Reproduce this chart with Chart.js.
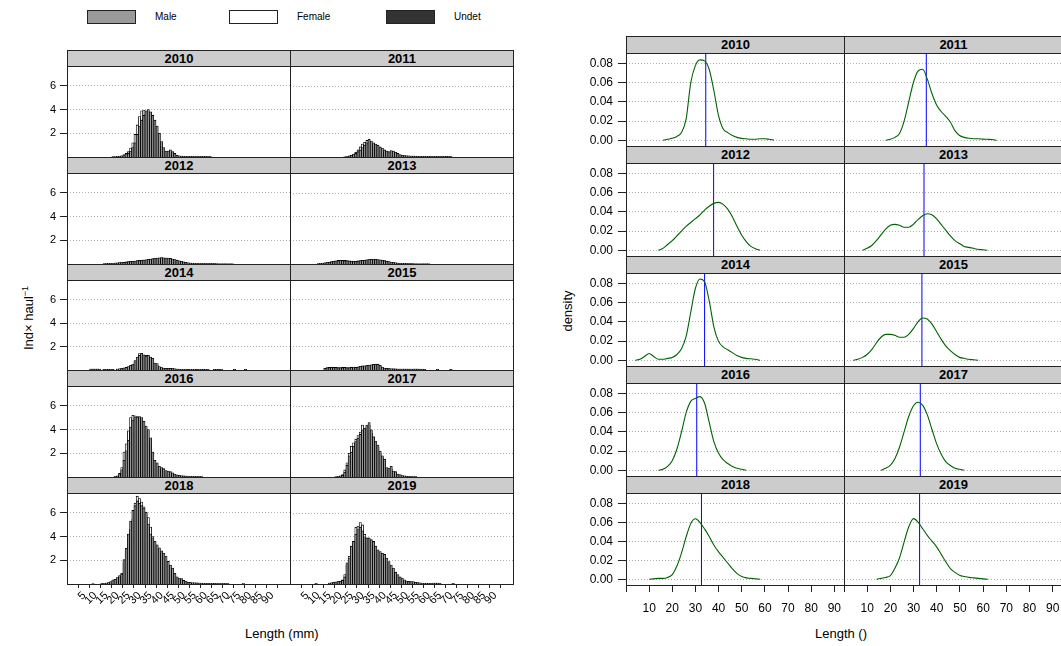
<!DOCTYPE html>
<html>
<head>
<meta charset="utf-8">
<script src="https://cdn.jsdelivr.net/npm/chart.js@4.4.0/dist/chart.umd.min.js"></script>
<style>
  body { margin: 0; width: 1061px; height: 646px; position: relative; overflow: hidden; background: #fff;
         font-family: "Liberation Sans", Arial, sans-serif; color: #000; }
  canvas { position: absolute; }
  .strip { position: absolute; box-sizing: border-box; background: #cccccc; border: 1px solid #222;
           text-align: center; font-weight: bold; font-size: 13px; z-index: 5; }
  .box { position: absolute; box-sizing: border-box; border: 1px solid #222; z-index: 5; pointer-events: none; }
  .key { position: absolute; box-sizing: border-box; border: 1px solid #222; width: 49px; height: 14px; top: 10px; }
  .txt { position: absolute; font-size: 10px; white-space: nowrap; }
  .title { position: absolute; font-size: 13px; white-space: nowrap; }
</style>
</head>
<body>
<div class="key" style="left:87px;background:#9a9a9a"></div><div class="txt" style="left:155px;top:11px">Male</div>
<div class="key" style="left:229px;background:#ffffff"></div><div class="txt" style="left:297px;top:11px">Female</div>
<div class="key" style="left:386px;background:#333333"></div><div class="txt" style="left:454px;top:11px">Undet</div>
<div class="title" style="left:245px;top:626px">Length (mm)</div>
<div class="title" style="left:815px;top:626px">Length ()</div>
<div class="title" style="left:28px;top:318px;transform:translate(-50%,-50%) rotate(-90deg)">Ind&times; haul<sup style="font-size:9px">&minus;1</sup></div>
<div class="title" style="left:567px;top:311px;transform:translate(-50%,-50%) rotate(-90deg)">density</div>
<script>
// panel years
const years = ['2010', '2011', '2012', '2013', '2014', '2015', '2016', '2017', '2018', '2019'];

// histogram length classes (mm)
const lengthBins = [8, 9, 10, 11, 12, 13, 14, 15, 16, 17, 18, 19, 20, 21, 22, 23, 24, 25, 26, 27,
  28, 29, 30, 31, 32, 33, 34, 35, 36, 37, 38, 39, 40, 41, 42, 43, 44, 45, 46, 47,
  48, 49, 50, 51, 52, 53, 54, 55, 56, 57, 58, 59, 60, 61, 62, 63, 64, 65, 66, 67,
  68, 69, 70, 71, 72, 73, 74, 75, 76, 77, 78];

const male2010 = [0,0,0,0,0,0,0,0,0,0, .03,.02,.05,.06,.1,.12,.2,.3,.5,.8, 1.2,1.9,2.6,3.1,3.5,3.9,4.0,3.8,3.5,3.1,
  2.6,2.0,1.3,.8,.5,.5,.6,.45,.3,.15, .1,.08,.06,.06,.05,.05,.05,.04,.04,.05, .04,.05,.04,.04,.03,0,0,0,0,0, 0,0,0,0,0,0,0,0,0,0, 0];
const female2010 = [0,0,0,0,0,0,0,0,0,0, .02,.03,.05,.08,.1,.2,.3,.45,.75,1.2, 1.9,2.7,3.4,3.9,3.95,3.6,3.3,2.9,2.4,1.9,
  1.4,.9,.6,.4,.3,.3,.25,.2,.15,.1, .08,.06,.05,.05,.05,.05,.04,.04,.05,.04, .05,.04,.05,.03,.03,0,0,0,0,0, 0,0,0,0,0,0,0,0,0,0, 0];
const male2011 = [0,0,0,0,0,0,0,0,0,0, 0,0,0,0,.02,.03,.08,.12,.2,.3, .45,.6,.8,1.0,1.2,1.5,1.35,1.2,1.1,1.0,
  .85,.75,.6,.5,.45,.55,.5,.4,.3,.2, .15,.12,.1,.1,.08,.08,.07,.06,.06,.05, .05,.05,.04,.05,.05,.04,.05,.04,.05,.04, .05,.04,.04,0,0,0,0,0,0,0, 0];
const female2011 = [0,0,0,0,0,0,0,0,0,0, 0,0,0,0,.02,.05,.1,.15,.25,.4, .6,.85,1.1,1.25,1.4,1.3,1.1,.95,.8,.7,
  .6,.5,.4,.3,.3,.35,.3,.25,.2,.15, .12,.1,.1,.08,.08,.07,.06,.06,.05,.05, .05,.04,.05,.05,.04,.04,.05,.04,.04,.05, .04,.04,.03,0,0,0,0,0,0,0, 0];
const male2012 = [0,0,0,0,0,0,.02,.03,.04,.05, .05,.07,.08,.1,.12,.13,.15,.18,.2,.23, .25,.27,.3,.32,.34,.36,.4,.42,.45,.48,
  .5,.52,.55,.53,.5,.5,.47,.42,.37,.32, .27,.22,.18,.14,.1,.08,.07,.06,.05,.05, .04,.04,.04,.03,.03,.03,.03,.02,.02,.02, .02,.02,.02,.02,.02,0,0,0,0,0, 0];
const female2012 = [0,0,0,0,0,0,.03,.04,.05,.05, .06,.08,.1,.12,.12,.15,.18,.2,.22,.22, .25,.28,.3,.3,.33,.35,.38,.4,.42,.45,
  .48,.5,.52,.5,.5,.48,.45,.4,.35,.3, .25,.2,.16,.12,.1,.08,.06,.05,.05,.04, .04,.04,.03,.03,.03,.03,.03,.03,.02,.02, .02,.02,.02,.02,.02,0,0,0,0,0, 0];
const male2013 = [0,0,.02,.04,.06,.09,.12,.15,.18,.22, .25,.28,.3,.3,.28,.27,.25,.23,.22,.22, .24,.27,.3,.32,.35,.38,.4,.42,.4,.38,
  .35,.32,.28,.24,.2,.16,.13,.1,.08,.07, .05,.05,.04,.03,.03,.03,.02,.02,.02,.02, .02,.02,.02,0,0,0,0,0,0,0, 0,0,0,0,0,0,0,0,0,0, 0];
const female2013 = [0,0,.03,.05,.08,.1,.13,.16,.2,.24, .27,.3,.3,.32,.3,.28,.26,.24,.22,.24, .26,.28,.3,.33,.36,.38,.4,.4,.38,.36,
  .33,.3,.26,.22,.18,.15,.12,.1,.08,.06, .05,.04,.04,.03,.03,.02,.02,.02,.02,.02, .02,.02,.02,0,0,0,0,0,0,0, 0,0,0,0,0,0,0,0,0,0, 0];
const male2014 = [.07,.08,.08,.07,.07,0,.05,.06,.05,.06, .05,0,.07,.1,.15,.18,.22,.3,.4,.45, .8,1.1,1.25,1.42,1.3,1.2,1.25,1.1,1.0,.6,
  .55,.3,.2,.16,.15,.15,.13,.12,.1,.08, .07,.06,.06,.06,.05,.06,.06,.06,.05,.06, .06,.05,.06,.06,0,0,.05,.06,.05,.06, 0,0,0,0,0,.05,0,0,0,0, .05];
const female2014 = [.08,.08,.07,.08,.06,0,.06,.05,.06,.05, .06,0,.08,.1,.12,.15,.2,.25,.35,.5, .75,1.0,1.4,1.3,1.2,1.25,1.2,1.0,.8,.55,
  .4,.25,.18,.15,.15,.14,.15,.12,.1,.08, .06,.06,.06,.06,.06,.06,.06,.06,.06,.05, .06,.06,.06,.05,0,0,.06,.06,.06,.05, 0,0,0,0,0,.05,0,0,0,0, .05];
const male2015 = [0,0,0,0,0,.12,.18,.2,.24,.22, .22,.2,.18,.2,.22,.2,.18,.22,.25,.22, .25,.32,.33,.36,.4,.42,.45,.48,.5,.46,
  .4,.25,.17,.14,.13,.1,.09,.09,.08,.07, .07,.08,.07,.08,.07,.07,.08,.07,.06,.07, .05,0,0,0,0,0,.05,0,0,0, 0,0,.05,0,0,0,0,0,0,0, 0];
const female2015 = [0,0,0,0,0,.15,.2,.22,.23,.2, .2,.18,.2,.22,.2,.18,.2,.25,.22,.2, .28,.3,.35,.33,.38,.4,.42,.45,.48,.5,
  .35,.2,.15,.15,.12,.1,.1,.08,.08,.08, .08,.07,.08,.07,.06,.08,.07,.08,.07,.06, .06,0,0,0,0,0,.05,0,0,0, 0,0,.05,0,0,0,0,0,0,0, 0];
const male2016 = [0,0,0,0,0,0,0,0,0,0, 0,.03,.05,.2,.6,1.4,2.2,3.1,4.2,4.8, 5.0,5.05,5.1,5.0,4.7,4.3,4.0,3.3,2.1,1.4,
  1.2,.9,.8,.7,.55,.5,.45,.35,.25,.18, .14,.1,.09,.08,.07,.06,.05,.05,.04,.04, .04,0,0,0,0,0,0,0,0,0, 0,0,0,0,0,0,0,0,0,0, 0];
const female2016 = [0,0,0,0,0,0,0,0,0,0, 0,.05,.1,.3,.8,2.1,2.8,3.9,5.0,5.2, 5.15,5.1,5.0,4.8,4.4,4.0,3.2,2.6,1.9,1.1,
  .8,.65,.55,.45,.4,.35,.3,.25,.2,.15, .12,.1,.08,.07,.06,.06,.05,.05,.05,.04, .04,0,0,0,0,0,0,0,0,0, 0,0,0,0,0,0,0,0,0,0, 0];
const male2017 = [0,0,0,0,0,0,0,0,0,0, .02,.04,.08,.15,.4,1.0,1.8,2.1,2.6,3.0, 3.3,3.6,4.0,4.1,4.4,4.6,4.0,3.4,3.0,2.7,
  2.2,1.8,1.5,.8,.75,.9,.5,.45,.25,.2, .12,.1,.08,.06,.05,.04,.04,0,0,0, 0,0,0,0,0,0,0,0,0,0, 0,0,0,0,0,0,0,0,0,0, 0];
const female2017 = [0,0,0,0,0,0,0,0,0,0, .03,.05,.1,.2,.6,1.2,2.0,2.6,2.9,3.2, 3.5,3.8,4.4,4.1,4.3,4.4,3.7,3.4,3.0,2.5,
  2.0,1.6,1.2,.7,.6,.7,.4,.3,.2,.15, .1,.08,.06,.05,.04,0,.04,0,0,0, 0,0,0,0,0,0,0,0,0,0, 0,0,0,0,0,0,0,0,0,0, 0];
const male2018 = [0,.02,0,0,0,.04,.06,.07,.12,.2, .35,.4,.55,.6,.85,2.05,3.0,4.2,5.3,6.2, 6.6,7.0,6.8,6.6,6.4,6.05,5.05,4.2,3.9,3.6,
  3.3,3.05,2.8,2.6,2.35,1.9,1.6,1.35,.9,.6, .5,.45,.3,.25,.15,.12,.1,.1,.09,.08, .07,.06,.05,.05,.05,.05,.04,.04,.04,.04, .04,.03,.03,0,0,0,0,0,0,.04, 0];
const female2018 = [0,.03,0,0,0,.05,.05,.08,.1,.15, .3,.4,.5,.7,.9,1.8,2.8,3.5,4.6,5.5, 6.8,7.4,7.2,6.9,6.5,6.0,5.6,4.8,4.0,3.4,
  3.0,2.6,2.4,2.2,1.9,1.6,1.3,1.0,.75,.55, .4,.3,.25,.2,.15,.12,.1,.1,.08,.08, .06,.06,.05,.05,.05,.04,.05,.04,.04,.04, .04,.04,.03,0,0,0,0,0,0,.04, 0];
const male2019 = [0,.04,0,0,0,0,0,.06,.1,.14, .18,.2,.22,.3,.6,1.8,2.2,3.2,3.6,4.2, 4.6,4.8,4.5,4.0,3.9,3.9,3.75,3.6,3.2,2.9,
  2.75,2.6,2.5,2.2,1.9,1.6,1.35,1.0,.8,.6, .5,.35,.25,.22,.2,.2,.15,.12,.1,.08, .06,.05,.05,.05,.08,.07,.08,.06,0,0, 0,0,0,.05,0,0,0,0,0,0, 0];
const female2019 = [0,.05,0,0,0,0,0,.08,.1,.12, .15,.2,.25,.35,.8,1.6,2.35,3.0,3.6,4.8, 4.9,5.2,5.0,4.2,3.6,3.5,3.4,3.2,2.9,2.6,
  2.4,2.2,2.1,1.9,1.6,1.3,1.0,.7,.5,.4, .3,.25,.2,.2,.18,.15,.12,.1,.08,.06, .05,.05,.04,.04,.06,.08,.06,.05,0,0, 0,0,0,.06,0,0,0,0,0,0, 0];

// undetermined sex: [length, value]
const undet2010 = [];
const undet2011 = [[58, 0.03]];
const undet2012 = [[20, 0.03], [62, 0.02]];
const undet2013 = [[12, 0.02]];
const undet2014 = [[9, 0.05], [16, 0.04], [52, 0.04]];
const undet2015 = [[14, 0.08], [19, 0.06], [50, 0.04]];
const undet2016 = [];
const undet2017 = [];
const undet2018 = [[15, 0.03], [18, 0.05]];
const undet2019 = [[16, 0.04]];

const maleByYear = [male2010, male2011, male2012, male2013, male2014, male2015, male2016, male2017, male2018, male2019];
const femaleByYear = [female2010, female2011, female2012, female2013, female2014, female2015, female2016, female2017, female2018, female2019];
const undetByYear = [undet2010, undet2011, undet2012, undet2013, undet2014, undet2015, undet2016, undet2017, undet2018, undet2019];

// density curves, sampled on densX
const densX = [4, 6, 8, 10, 12, 14, 16, 18, 20, 22, 24, 26, 28, 30, 32, 34, 36, 38, 40, 42, 44, 46, 48, 50, 52, 54, 56, 58, 60, 62, 64, 66];
const dens2010 = [null,null,null,null,null,null, 0,.001,.002,.004,.008,.022,.06,.078,.084,.083,.074,.052,.026,.012,.008,.005,.003,.002,.0015,.001,.001,.0015,.0015,.001,.0003, null];
const dens2011 = [null,null,null,null,null,null,null, 0,.001,.003,.007,.02,.04,.06,.072,.074,.064,.049,.037,.03,.025,.019,.01,.005,.003,.002,.0015,.0015,.0012,.001,.0008,0];
const dens2012 = [null,null,null,null,null, 0,.002,.006,.01,.015,.02,.025,.029,.033,.037,.042,.046,.049,.05,.048,.043,.035,.025,.016,.009,.004,.0015,0, null,null,null,null];
const dens2013 = [null,null, 0,.002,.005,.01,.016,.022,.026,.027,.026,.024,.024,.027,.032,.036,.038,.037,.033,.027,.021,.015,.01,.007,.004,.003,.002,.001,.0005,0, null,null];
const dens2014 = [0,.001,.004,.007,.004,.001,.001,.002,.003,.006,.012,.025,.05,.075,.085,.082,.062,.035,.02,.014,.011,.008,.005,.003,.002,.0015,.001,0, null,null,null,null];
const dens2015 = [0,.001,.003,.006,.011,.018,.024,.027,.027,.026,.024,.024,.027,.033,.04,.044,.043,.038,.03,.022,.015,.01,.006,.003,.002,.001,.0005,0, null,null,null,null];
const dens2016 = [null,null,null,null,null, 0,.001,.004,.01,.022,.04,.06,.072,.075,.077,.07,.05,.03,.018,.011,.007,.004,.002,.001,0, null,null,null,null,null,null,null];
const dens2017 = [null,null,null,null,null,null, 0,.002,.005,.012,.024,.04,.056,.067,.071,.068,.058,.043,.028,.017,.009,.005,.002,.001,0, null,null,null,null,null,null,null];
const dens2018 = [null,null,null, 0,.0005,.001,.001,.002,.005,.014,.028,.045,.059,.064,.06,.053,.045,.036,.029,.023,.017,.011,.006,.003,.0015,.001,.0005,0, null,null,null,null];
const dens2019 = [null,null,null,null,null, 0,.001,.002,.004,.012,.023,.04,.056,.064,.06,.053,.046,.04,.034,.026,.018,.011,.007,.004,.003,.002,.0015,.001,.0005,0, null,null];
const densByYear = [dens2010, dens2011, dens2012, dens2013, dens2014, dens2015, dens2016, dens2017, dens2018, dens2019];

// mean length per year (blue line)
const meanLength = [34.5, 35.6, 37.9, 34.6, 34.0, 33.7, 30.6, 33.0, 32.6, 32.6];

// tick values
const histXTicks = [5, 10, 15, 20, 25, 30, 35, 40, 45, 50, 55, 60, 65, 70, 75, 80, 85, 90];
const histYTicks = [2, 4, 6];
const densXTicks = [0, 10, 20, 30, 40, 50, 60, 70, 80, 90];
const densYTicks = [0, 0.02, 0.04, 0.06, 0.08];

Chart.defaults.font.family = "'Liberation Sans', Arial, sans-serif";
Chart.defaults.color = '#000';

function fixedTicks(list) {
  return function(scale) { scale.ticks = list.map(v => ({ value: v })); };
}

// put a chart so its plot area lands on rect r
function addChart(r, makeConfig, mL, mB) {
  const cv = document.createElement('canvas');
  document.body.appendChild(cv);
  let w = r.w + mL, h = r.h + mB;
  cv.width = w; cv.height = h;
  let chart = new Chart(cv, makeConfig());
  const a = chart.chartArea;
  const dw = Math.round(r.w - (a.right - a.left));
  const dh = Math.round(r.h - (a.bottom - a.top));
  if (dw !== 0 || dh !== 0) {
    chart.destroy();
    cv.width = w + dw; cv.height = h + dh;
    chart = new Chart(cv, makeConfig());
  }
  const b = chart.chartArea;
  cv.style.left = (r.x - b.left) + 'px';
  cv.style.top = (r.y - b.top) + 'px';
}

function addDiv(cls, x, y, w, h, text) {
  const d = document.createElement('div');
  d.className = cls;
  d.style.left = x + 'px'; d.style.top = y + 'px';
  d.style.width = w + 'px'; d.style.height = h + 'px';
  if (text) { d.textContent = text; d.style.lineHeight = (h - 2) + 'px'; }
  document.body.appendChild(d);
}

function histConfig(i, col, bottom) {
  return {
    type: 'bar',
    data: {
      datasets: [
        { label: 'Male', data: maleByYear[i].map((v, k) => ({ x: lengthBins[k], y: v })), backgroundColor: '#9a9a9a' },
        { label: 'Female', data: femaleByYear[i].map((v, k) => ({ x: lengthBins[k], y: v })), backgroundColor: '#ffffff' },
        { label: 'Undet', data: undetByYear[i].map(p => ({ x: p[0], y: p[1] })), backgroundColor: '#333333' }
      ]
    },
    options: {
      responsive: false, maintainAspectRatio: false, animation: false, events: [],
      layout: { padding: 0 },
      datasets: { bar: { grouped: false, barPercentage: 1, categoryPercentage: 1, borderColor: '#000', borderWidth: 0.8 } },
      plugins: { legend: { display: false }, tooltip: { enabled: false } },
      scales: {
        x: {
          type: 'linear', min: 0, max: 95.3, display: bottom,
          afterBuildTicks: fixedTicks(histXTicks),
          grid: { drawOnChartArea: false, tickLength: 4, tickColor: '#222', tickBorderDash: [] },
          border: { display: false },
          ticks: { autoSkip: false, minRotation: 45, maxRotation: 45, padding: 1, font: { size: 11 } },
          afterFit: s => { s.height = 40; }
        },
        y: {
          min: 0, max: 7.7,
          afterBuildTicks: fixedTicks(histYTicks),
          grid: { color: '#b4b4b4', drawTicks: col === 0, tickLength: 7, tickColor: '#222', tickBorderDash: [] },
          border: { display: false, dash: [1, 2] },
          ticks: { display: col === 0, padding: 4, font: { size: 11 } },
          afterFit: s => { s.width = col === 0 ? 40 : 0; }
        }
      }
    }
  };
}

function densConfig(i, col, bottom) {
  return {
    type: 'line',
    data: {
      datasets: [
        { data: densX.map((x, k) => ({ x: x, y: densByYear[i][k] })), borderColor: '#006400', borderWidth: 1.1,
          pointRadius: 0, cubicInterpolationMode: 'monotone', fill: false },
        { data: [{ x: meanLength[i], y: -0.006 }, { x: meanLength[i], y: 0.091 }], borderColor: '#0000ff',
          borderWidth: 1, pointRadius: 0 }
      ]
    },
    options: {
      responsive: false, maintainAspectRatio: false, animation: false, events: [],
      layout: { padding: 0 },
      plugins: { legend: { display: false }, tooltip: { enabled: false } },
      scales: {
        x: {
          type: 'linear', min: 0, max: 94.3, display: bottom,
          afterBuildTicks: fixedTicks(densXTicks),
          grid: { drawOnChartArea: false, tickLength: 7, tickColor: '#222', tickBorderDash: [] },
          border: { display: false },
          ticks: { maxRotation: 0, padding: 9, font: { size: 12 }, callback: v => (v === 0 ? '' : String(v)) },
          afterFit: s => { s.height = 36; }
        },
        y: {
          min: -0.006, max: 0.091,
          afterBuildTicks: fixedTicks(densYTicks),
          grid: { color: '#b4b4b4', drawTicks: col === 0, tickLength: 8, tickColor: '#222', tickBorderDash: [] },
          border: { display: false, dash: [1, 2] },
          ticks: { display: col === 0, padding: 5, font: { size: 12 }, callback: v => v.toFixed(2) },
          afterFit: s => { s.width = col === 0 ? 50 : 0; }
        }
      }
    }
  };
}

// left lattice: histograms
const hCols = [67, 290];
const hW = 223;
const hTops = [50, 157, 264, 370, 477, 584];
// right lattice: densities
const dCols = [626, 844];
const dW = 218;
const dTops = [36, 146, 256, 366, 476, 585];

for (let i = 0; i < years.length; i++) {
  const row = Math.floor(i / 2), col = i % 2;
  const bottom = row === 4;

  // histogram panel
  let x = hCols[col], top = hTops[row], end = hTops[row + 1];
  addChart({ x: x, y: top + 16, w: hW, h: end - top - 16 }, () => histConfig(i, col, bottom), col === 0 ? 40 : 0, bottom ? 40 : 0);
  addDiv('strip', x, top, hW + 1, 17, years[i]);
  addDiv('box', x, top + 16, hW + 1, end - top - 15);

  // density panel
  x = dCols[col]; top = dTops[row]; end = dTops[row + 1];
  addChart({ x: x, y: top + 17, w: dW, h: end - top - 17 }, () => densConfig(i, col, bottom), col === 0 ? 50 : 0, bottom ? 36 : 0);
  addDiv('strip', x, top, dW + 1, 18, years[i]);
  addDiv('box', x, top + 17, dW + 1, end - top - 16);
}
</script>
</body>
</html>
